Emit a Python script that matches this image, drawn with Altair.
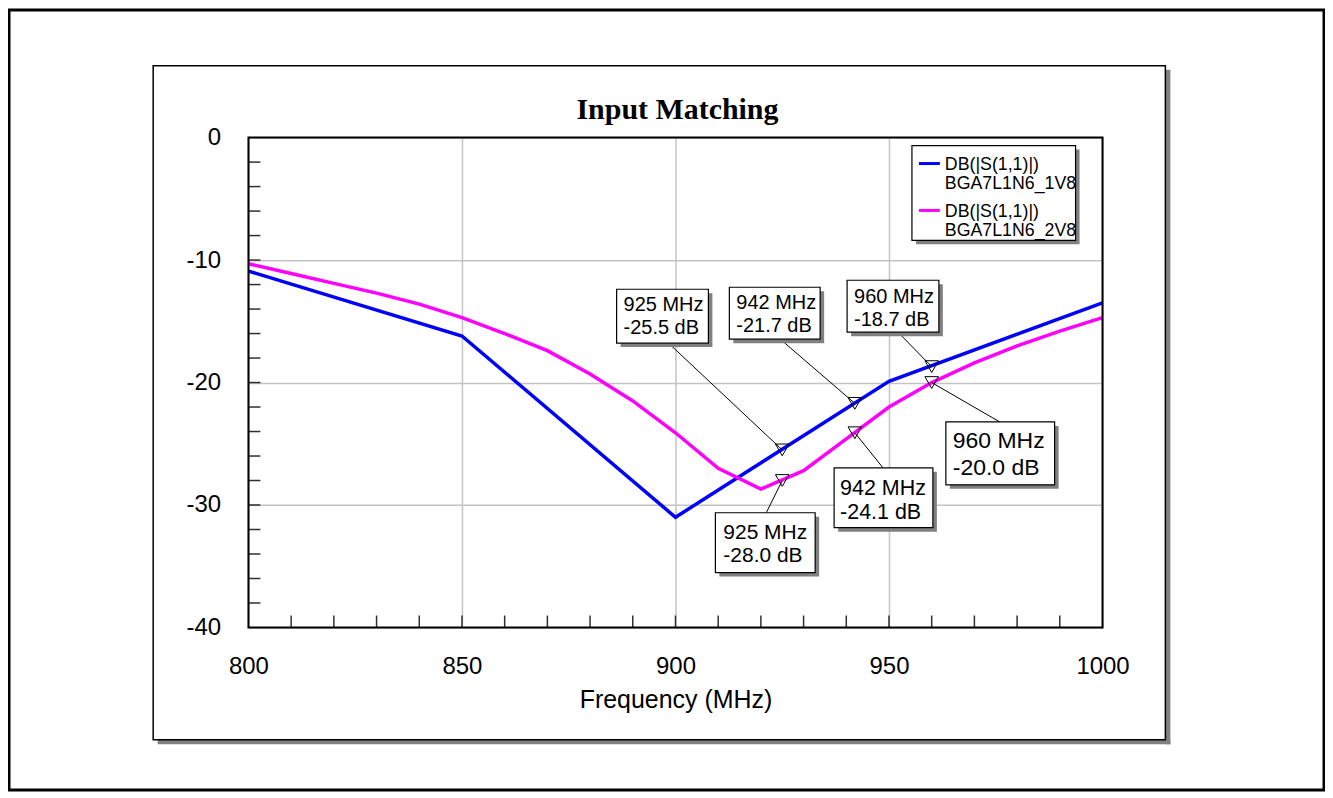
import altair as alt
import pandas as pd

# ---------------- data ----------------
TITLE = "Input Matching"
X_TITLE = "Frequency (MHz)"
MEASURE = "DB(|S(1,1)|)"
SERIES = ["BGA7L1N6_1V8", "BGA7L1N6_2V8"]
COLORS = ["#0000ff", "#ff00ff"]

FREQ_1V8 = [800, 850, 900, 950, 1000]
DB_1V8 = [-10.9, -16.2, -31.0, -19.9, -13.5]

FREQ_2V8 = [800, 810, 820, 830, 840, 850, 860, 870, 880, 890, 900,
            910, 920, 930, 940, 950, 960, 970, 980, 990, 1000]
DB_2V8 = [-10.3, -11.1, -11.9, -12.7, -13.6, -14.7, -16.0, -17.4, -19.3, -21.5, -24.1,
          -27.0, -28.7, -27.2, -24.6, -22.0, -20.0, -18.4, -17.0, -15.8, -14.7]

MARKER_FREQ = [925, 942, 960]
MARKER_DB_1V8 = [-25.5, -21.7, -18.7]
MARKER_DB_2V8 = [-28.0, -24.1, -20.0]

X_TICKS = [800, 850, 900, 950, 1000]
Y_TICKS = [0, -10, -20, -30, -40]
X_MINOR = [810, 820, 830, 840, 850, 860, 870, 880, 890, 900,
           910, 920, 930, 940, 950, 960, 970, 980, 990]
Y_MINOR = [-2, -4, -6, -8, -10, -12, -14, -16, -18, -20,
           -22, -24, -26, -28, -30, -32, -34, -36, -38]

# ---------------- layout ----------------
W, H = 856, 491
X_DOMAIN = [800, 1000]
Y_DOMAIN = [-40, 0]
SANS = "Liberation Sans"
SERIF = "Liberation Serif"


def px_to_f(px):
    return X_DOMAIN[0] + px * (X_DOMAIN[1] - X_DOMAIN[0]) / W


def py_to_db(py):
    return Y_DOMAIN[1] - py * (Y_DOMAIN[1] - Y_DOMAIN[0]) / H


LABEL_EXPR = "replace(datum.label, '\u2212', '-')"
XS = alt.Scale(domain=X_DOMAIN, nice=False, zero=False)
YS = alt.Scale(domain=Y_DOMAIN, nice=False, zero=False)
XA = alt.Axis(values=X_TICKS, format="d", grid=True, gridColor="#c4c4c4", gridWidth=1.5,
              ticks=False, domain=False, labelFont=SANS, labelFontSize=24, labelColor="black",
              labelPadding=27, labelFlush=False, title=X_TITLE, titleFont=SANS,
              titleFontSize=25, titleFontWeight="normal", titleColor="black",
              titleBaseline="alphabetic", titleY=80)
YA = alt.Axis(values=Y_TICKS, format="d", labelExpr=LABEL_EXPR, grid=True,
              gridColor="#c4c4c4", gridWidth=1.5,
              ticks=False, domain=False, labelFont=SANS, labelFontSize=24, labelColor="black",
              labelPadding=28, labelFlush=False, title=None)


def X(field="f"):
    return alt.X(f"{field}:Q", scale=XS, axis=XA)


def Y(field="db"):
    return alt.Y(f"{field}:Q", scale=YS, axis=YA)


one = pd.DataFrame({"k": [0]})


def prect(x, x2, y, y2, **kw):
    return alt.Chart(one).mark_rect(**kw).encode(
        x=alt.value(x), x2=alt.value(x2), y=alt.value(y), y2=alt.value(y2))


layers = []

# outer frame and panel with shadow
layers.append(prect(-240, 1078, -128, 654, fill="white", fillOpacity=0,
                    stroke="black", strokeWidth=3))
layers.append(prect(919, 924, -68, 608, fill="#808080"))
layers.append(prect(-91, 924, 603.5, 608, fill="#808080"))
layers.append(prect(-95.5, 919, -72, 603.5, fill="white", fillOpacity=0,
                    stroke="black", strokeWidth=1.5))

# minor ticks
xm = pd.DataFrame({"f": X_MINOR})
ym = pd.DataFrame({"db": Y_MINOR})
layers.append(alt.Chart(xm).mark_rule(color="#303030", strokeWidth=1.5).encode(
    x=X(), y=alt.value(H - 12), y2=alt.value(H)))
layers.append(alt.Chart(ym).mark_rule(color="#303030", strokeWidth=1.5).encode(
    y=Y(), x=alt.value(0), x2=alt.value(12)))

# data lines
lines = pd.concat([
    pd.DataFrame({"f": FREQ_1V8, "db": DB_1V8, "series": SERIES[0]}),
    pd.DataFrame({"f": FREQ_2V8, "db": DB_2V8, "series": SERIES[1]}),
])
color = alt.Color("series:N", scale=alt.Scale(domain=SERIES, range=COLORS), legend=None)
layers.append(alt.Chart(lines).mark_line(strokeWidth=3.5, clip=True).encode(
    x=X(), y=Y(), color=color, detail="series:N"))

# annotations: (series idx, marker idx, box left px, box top px, w, h, anchor px x, anchor px y,
#               font size, line height, dx, dy)
ANN = [
    (0, 0, 369, 152, 92, 54, 421, 206, 20, 23, 7, 6),
    (0, 1, 482, 150, 91, 52, 533, 202, 20, 23, 7, 6),
    (0, 2, 600, 143, 92, 52, 651, 195, 20, 23, 7, 6.5),
    (1, 0, 468, 376, 100, 60, 519, 376, 21, 23.5, 8, 9),
    (1, 1, 587, 331, 99, 60, 636, 331, 21.5, 24, 6, 10),
    (1, 2, 699, 285, 109, 63, 753, 285, 23, 27, 7, 8.5),
]
MARKER_DB = [MARKER_DB_1V8, MARKER_DB_2V8]

for s, m, bl, bt, bw, bh, ax, ay, fs, lh, dx, dy in ANN:
    fq = MARKER_FREQ[m]
    val = MARKER_DB[s][m]
    d = pd.DataFrame({
        "f": [fq], "db": [val],
        "ax": [px_to_f(ax)], "ay": [py_to_db(ay)],
        "bx": [px_to_f(bl)], "bx2": [px_to_f(bl + bw)],
        "by": [py_to_db(bt)], "by2": [py_to_db(bt + bh)],
        "label": [f"{fq} MHz\n{val:.1f} dB"],
    })
    layers.append(alt.Chart(d).mark_rule(color="black", strokeWidth=1).encode(
        x=X(), y=Y(), x2=alt.X2("ax:Q"), y2=alt.Y2("ay:Q")))
    layers.append(alt.Chart(d).mark_point(shape="triangle-down", filled=False, size=185,
                                          color="black", strokeWidth=1, opacity=1).encode(
        x=X(), y=Y()))
    layers.append(alt.Chart(d).mark_rect(fill="#808080", xOffset=4, x2Offset=4,
                                         yOffset=4, y2Offset=4).encode(
        x=X("bx"), x2=alt.X2("bx2:Q"), y=Y("by"), y2=alt.Y2("by2:Q")))
    layers.append(alt.Chart(d).mark_rect(fill="white", stroke="black", strokeWidth=1.2).encode(
        x=X("bx"), x2=alt.X2("bx2:Q"), y=Y("by"), y2=alt.Y2("by2:Q")))
    layers.append(alt.Chart(d).mark_text(align="left", baseline="top", lineBreak="\n",
                                         font=SANS, fontSize=fs, lineHeight=lh,
                                         color="black", dx=dx, dy=dy).encode(
        x=X("bx"), y=Y("by"), text="label:N"))

# legend (drawn manually)
layers.append(prect(669, 833, 12, 107, fill="#808080"))
layers.append(prect(665, 829, 8, 103, fill="white", stroke="black", strokeWidth=1.2))
for i, (name, col) in enumerate(zip(SERIES, COLORS)):
    y0 = 26 + i * 47
    layers.append(alt.Chart(one).mark_rule(color=col, strokeWidth=3).encode(
        x=alt.value(672), x2=alt.value(693), y=alt.value(y0)))
    layers.append(alt.Chart(pd.DataFrame({"t": [f"{MEASURE}\n{name}"]})).mark_text(
        align="left", baseline="top", lineBreak="\n", font=SANS, fontSize=17.8,
        lineHeight=19.5, color="black").encode(
        x=alt.value(698), y=alt.value(y0 - 7.6), text="t:N"))

# plot frame
layers.append(prect(0, W, 0, H, fill="white", fillOpacity=0, stroke="black", strokeWidth=2))

# title
layers.append(alt.Chart(pd.DataFrame({"t": [TITLE]})).mark_text(
    align="center", baseline="alphabetic", font=SERIF, fontSize=30, fontWeight="bold",
    color="black").encode(x=alt.value(W / 2 + 2), y=alt.value(-18.7), text="t:N"))

chart = alt.layer(*layers).properties(
    width=W, height=H,
    padding={"left": 241, "top": 129, "right": 223, "bottom": 164},
    autosize=alt.AutoSizeParams(type="none"),
).configure_view(stroke=None).configure(background="white")

chart.save("out.html", embed_options={"renderer": "svg", "actions": False})
